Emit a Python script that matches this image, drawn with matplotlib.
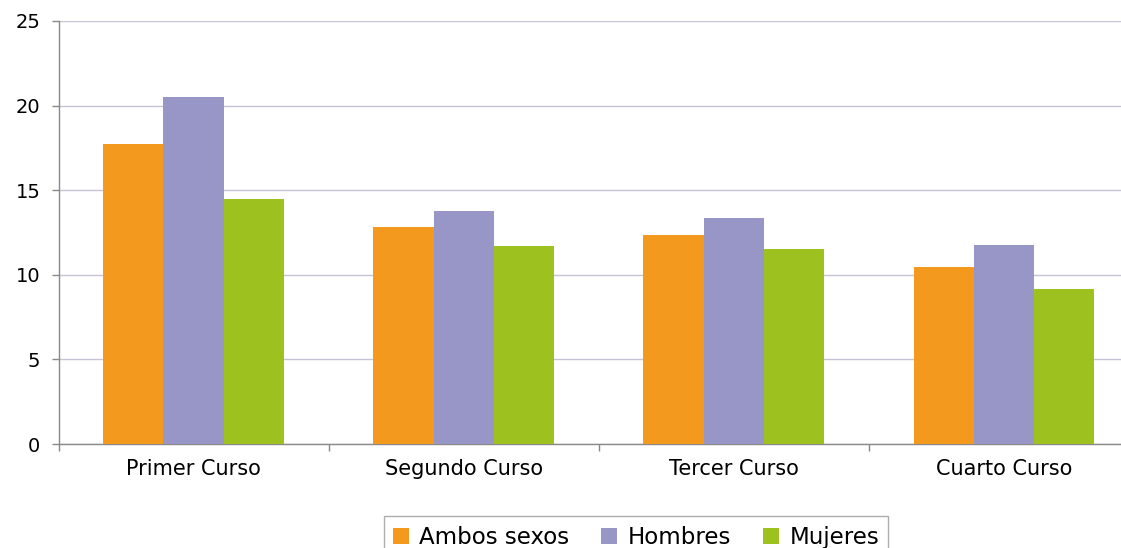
import numpy as np
import matplotlib
matplotlib.use("Agg")
import matplotlib.pyplot as plt
from matplotlib.ticker import FixedLocator

plt.rcParams["font.family"] = ["DejaVu Sans"]

# Data
categories = ["Primer Curso", "Segundo Curso", "Tercer Curso", "Cuarto Curso"]
series_names = ["Ambos sexos", "Hombres", "Mujeres"]
ambos = [17.76, 12.81, 12.38, 10.46]
hombres = [20.52, 13.76, 13.33, 11.75]
mujeres = [14.49, 11.69, 11.51, 9.18]
colors = ["#F39A1E", "#9896C6", "#9DC11E"]

fig = plt.figure(figsize=(11.21, 5.48), dpi=100)
# axis runs past the right edge of the image, as in the reference
ax = fig.add_axes([58.5 / 1121, 104 / 548, (1139 - 58.5) / 1121, (527 - 104) / 548])

x = np.arange(len(categories))
width = 0.223
for i, (vals, name) in enumerate(zip([ambos, hombres, mujeres], series_names)):
    ax.bar(x + (i - 1) * width, vals, width, color=colors[i], label=name,
           edgecolor="none", zorder=3)

ax.set_xlim(-0.5, len(categories) - 0.5)
ax.set_ylim(0, 25)
ax.set_yticks([0, 5, 10, 15, 20, 25])
ax.yaxis.grid(True, color="#c4c4d6", linewidth=1.0, zorder=0)

ax.set_xticks(x)
ax.set_xticklabels(categories, fontsize=15)
ax.xaxis.set_minor_locator(FixedLocator(np.arange(-0.5, len(categories), 1.0)))
ax.tick_params(axis="x", which="major", length=0, pad=11)
ax.tick_params(axis="x", which="minor", length=5, color="#8c8888", width=1)
ax.tick_params(axis="y", length=5, color="#8c8888", width=1, labelsize=14, pad=8)

for side in ["top", "right"]:
    ax.spines[side].set_visible(False)
for side in ["left", "bottom"]:
    ax.spines[side].set_color("#8c8888")
    ax.spines[side].set_linewidth(1)

leg = fig.legend(loc="upper center", bbox_to_anchor=(636 / 1121, 1 - 505 / 548),
                 ncol=3, fontsize=16.5, frameon=True, fancybox=False,
                 handlelength=0.7, handleheight=0.7, handletextpad=0.45,
                 columnspacing=1.4, borderpad=0.4)
leg.get_frame().set_edgecolor("#999999")
leg.get_frame().set_linewidth(1)

fig.savefig("out.png", dpi=100)
